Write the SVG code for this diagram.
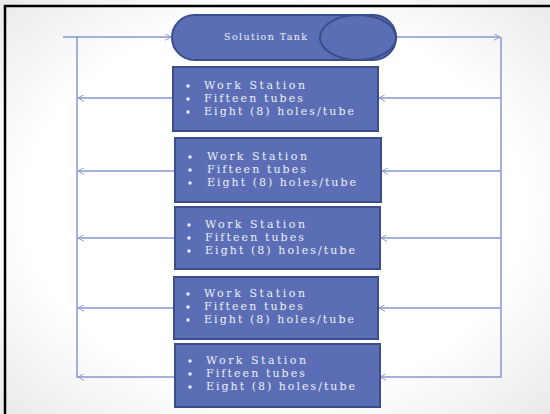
<svg xmlns="http://www.w3.org/2000/svg" width="550" height="414" viewBox="0 0 550 414">
<style>
.conn{fill:none;stroke:#8797d2;stroke-width:1.5}
.box{fill:#5b6eb5;stroke:#3c4d8c;stroke-width:2}
.txt{font-family:"DejaVu Serif","Liberation Serif",serif;font-size:11px;fill:#eceef6}
.blt{fill:#eceef6}
</style>
<defs>
<radialGradient id="bg" cx="50%" cy="50%" r="75%">
<stop offset="0.6" stop-color="#ffffff"/>
<stop offset="1" stop-color="#e6e6e6"/>
</radialGradient>
<marker id="ah" viewBox="0 0 10 10" refX="9" refY="5" markerWidth="7" markerHeight="7" orient="auto" markerUnits="userSpaceOnUse">
<path d="M0,0 L9,5 L0,10" fill="none" stroke="#8797d2" stroke-width="1.3"/>
</marker>
</defs>
<rect x="0" y="0" width="550" height="414" fill="url(#bg)"/>
<line x1="4" y1="6" x2="550" y2="6" stroke="#000" stroke-width="2.5"/>
<line x1="5" y1="5" x2="5" y2="414" stroke="#000" stroke-width="2.5"/>
<g id="connectors">
<path class="conn" d="M63,37 H171" marker-end="url(#ah)"/>
<path class="conn" d="M77,37 V378"/>
<path class="conn" d="M173,98 H78" marker-end="url(#ah)"/>
<path class="conn" d="M175,171 H78" marker-end="url(#ah)"/>
<path class="conn" d="M175,238 H78" marker-end="url(#ah)"/>
<path class="conn" d="M174,308 H78" marker-end="url(#ah)"/>
<path class="conn" d="M175,377 H78" marker-end="url(#ah)"/>
<path class="conn" d="M396,37 H500" marker-end="url(#ah)"/>
<path class="conn" d="M501,37 V377 H380" marker-end="url(#ah)"/>
<path class="conn" d="M501,98 H379" marker-end="url(#ah)"/>
<path class="conn" d="M501,171 H382" marker-end="url(#ah)"/>
<path class="conn" d="M501,238 H381" marker-end="url(#ah)"/>
<path class="conn" d="M501,308 H379" marker-end="url(#ah)"/>
</g>
<g id="tank">
<rect x="172" y="15" width="224" height="45" rx="22.5" class="box"/>
<ellipse cx="358" cy="37.5" rx="38" ry="22.5" class="box"/>
<text x="224" y="40" class="txt" style="font-size:9.5px" textLength="83">Solution Tank</text>
</g>
<g id="ws1">
<rect x="173" y="67" width="205" height="64" class="box"/>
<circle cx="188" cy="86" r="1.7" class="blt"/><circle cx="188" cy="99" r="1.7" class="blt"/><circle cx="188" cy="112" r="1.7" class="blt"/>
<text x="204" y="89" class="txt" textLength="101">Work Station</text>
<text x="204" y="102" class="txt" textLength="99">Fifteen tubes</text>
<text x="204" y="115" class="txt" textLength="150">Eight (8) holes/tube</text>
</g>
<g id="ws2">
<rect x="175" y="138" width="206" height="64" class="box"/>
<circle cx="190" cy="157" r="1.7" class="blt"/><circle cx="190" cy="170" r="1.7" class="blt"/><circle cx="190" cy="183" r="1.7" class="blt"/>
<text x="207" y="160" class="txt" textLength="100">Work Station</text>
<text x="207" y="173" class="txt" textLength="99">Fifteen tubes</text>
<text x="207" y="186" class="txt" textLength="149">Eight (8) holes/tube</text>
</g>
<g id="ws3">
<rect x="175" y="207" width="205" height="62" class="box"/>
<circle cx="189" cy="225" r="1.7" class="blt"/><circle cx="189" cy="238" r="1.7" class="blt"/><circle cx="189" cy="251" r="1.7" class="blt"/>
<text x="205" y="228" class="txt" textLength="100">Work Station</text>
<text x="205" y="241" class="txt" textLength="99">Fifteen tubes</text>
<text x="205" y="254" class="txt" textLength="150">Eight (8) holes/tube</text>
</g>
<g id="ws4">
<rect x="174" y="277" width="204" height="62" class="box"/>
<circle cx="188" cy="294" r="1.7" class="blt"/><circle cx="188" cy="307" r="1.7" class="blt"/><circle cx="188" cy="320" r="1.7" class="blt"/>
<text x="204" y="297" class="txt" textLength="101">Work Station</text>
<text x="204" y="310" class="txt" textLength="99">Fifteen tubes</text>
<text x="204" y="323" class="txt" textLength="150">Eight (8) holes/tube</text>
</g>
<g id="ws5">
<rect x="175" y="344" width="205" height="63" class="box"/>
<circle cx="190" cy="361" r="1.7" class="blt"/><circle cx="190" cy="374" r="1.7" class="blt"/><circle cx="190" cy="387" r="1.7" class="blt"/>
<text x="206" y="364" class="txt" textLength="100">Work Station</text>
<text x="206" y="377" class="txt" textLength="99">Fifteen tubes</text>
<text x="206" y="390" class="txt" textLength="149">Eight (8) holes/tube</text>
</g>
</svg>
